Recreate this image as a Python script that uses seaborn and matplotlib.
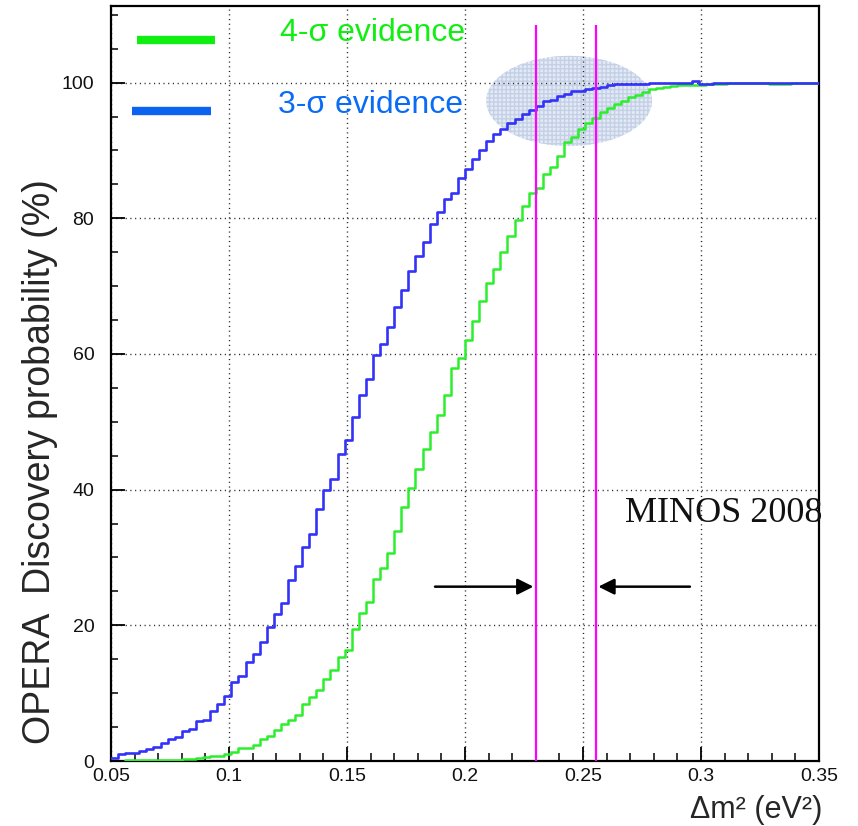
import numpy as np
import pandas as pd
import matplotlib
matplotlib.use("Agg")
import matplotlib.pyplot as plt
from matplotlib.patches import Ellipse
import seaborn as sns

# ---------------- data ----------------
bin_lo = 0.05
bin_w = 0.003
n_bins = 100

blue_3sigma = [0.5, 1.0, 1.2, 1.2, 1.5, 1.7, 2.1, 2.6, 3.3, 3.5,
               4.4, 4.7, 5.9, 6.1, 7.3, 8.4, 9.6, 11.6, 12.5, 14.6,
               15.8, 17.5, 19.8, 21.7, 23.3, 26.7, 28.7, 31.5, 33.4, 37.1,
               39.9, 41.5, 45.3, 47.3, 50.7, 53.9, 56.3, 59.8, 61.4, 64.0,
               66.9, 69.5, 72.2, 74.4, 76.5, 79.1, 80.9, 82.8, 83.7, 86.0,
               87.3, 88.7, 90.0, 91.4, 92.4, 93.1, 94.1, 94.7, 95.4, 95.9,
               96.6, 97.3, 97.5, 98.0, 98.3, 98.7, 98.8, 99.1, 99.2, 99.3,
               99.6, 99.8, 99.8, 99.8, 99.8, 99.8, 100.0, 100.0, 100.0, 100.0,
               100.0, 100.0, 100.3, 99.8, 99.8, 100.0, 100.0, 100.0, 100.0, 100.0,
               100.0, 100.0, 100.0, 100.0, 100.0, 100.0, 100.0, 100.0, 100.0, 100.0]

green_first_bin = 2
green_4sigma = [0.1, 0.1, 0.1, 0.1, 0.1, 0.1, 0.1, 0.1,
                0.25, 0.25, 0.4, 0.55, 0.75, 0.75, 1.0, 1.4, 1.9, 1.9,
                2.4, 3.3, 3.7, 4.5, 5.4, 6.1, 6.8, 8.4, 9.5, 10.5,
                12.1, 13.4, 15.3, 16.3, 19.4, 21.8, 23.5, 26.8, 28.5, 30.6,
                33.9, 37.5, 40.3, 43.1, 46.0, 48.5, 51.0, 53.9, 57.9, 59.4,
                62.1, 64.8, 67.8, 70.4, 72.6, 75.0, 77.4, 79.8, 81.8, 83.7,
                84.5, 86.6, 87.5, 89.2, 91.2, 92.0, 93.1, 94.0, 94.8, 95.7,
                96.2, 96.8, 97.3, 97.9, 98.2, 98.6, 99.1, 99.2, 99.4, 99.5,
                99.7, 99.7, 99.7, 99.7, 99.85, 99.85, 99.85, 100.0, 100.0, 100.0,
                100.0, 100.0, 100.0, 99.85, 99.85, 99.85, 100.0, 100.0, 100.0, 100.0]

minos_lines = [0.23, 0.2555]
x_ticks = [0.05, 0.1, 0.15, 0.2, 0.25, 0.3, 0.35]
x_ticklabels = ["0.05", "0.1", "0.15", "0.2", "0.25", "0.3", "0.35"]
y_ticks = [0, 20, 40, 60, 80, 100]

# ---------------- build tables ----------------
edges = np.round(bin_lo + bin_w * np.arange(n_bins + 1), 4)
blue_df = pd.DataFrame({"x": edges, "y": blue_3sigma + [blue_3sigma[-1]]})
green_df = pd.DataFrame({"x": edges[green_first_bin:], "y": green_4sigma + [green_4sigma[-1]]})

# ---------------- style ----------------
sns.set_style("ticks")
plt.rcParams["font.family"] = ["Liberation Sans", "DejaVu Sans"]

W, H = 858, 826
fig = plt.figure(figsize=(W / 100, H / 100), dpi=100)
ax = fig.add_axes([111 / W, (H - 761) / H, (819 - 111) / W, (761 - 6) / H])

BLUE = "#3232f8"
GREEN = "#2cee2c"

sns.lineplot(data=green_df, x="x", y="y", ax=ax, color=GREEN, lw=1.8,
             drawstyle="steps-post", estimator=None, zorder=3)
sns.lineplot(data=blue_df, x="x", y="y", ax=ax, color=BLUE, lw=1.9,
             drawstyle="steps-post", estimator=None, zorder=4)

ax.set_xlim(0.05, 0.35)
ax.set_ylim(0, 111.3)

# shaded ellipse
ell = Ellipse((0.2441, 97.3), 0.0703, 13.3, facecolor="#e4eaf5",
              edgecolor="#c3d0e6", hatch="++++", lw=0, zorder=0.4)
ax.add_patch(ell)

# grid
ax.set_axisbelow(True)
ax.grid(True, color="#222222", lw=1.0, linestyle=(0, (0.8, 2.6)))

# MINOS lines
ax.vlines(minos_lines, 0, 108.5, color="#ff00ff", lw=1.6, zorder=5)

# arrows
ax.annotate("", xy=(0.2290, 25.7), xytext=(0.1873, 25.7),
            arrowprops=dict(arrowstyle="-|>", color="black", lw=1.8,
                            mutation_scale=24, shrinkA=0, shrinkB=0), zorder=6)
ax.annotate("", xy=(0.2565, 25.7), xytext=(0.2953, 25.7),
            arrowprops=dict(arrowstyle="-|>", color="black", lw=1.8,
                            mutation_scale=24, shrinkA=0, shrinkB=0), zorder=6)

ax.text(0.2678, 35.3, "MINOS 2008", family=["Liberation Serif", "DejaVu Serif"],
        fontsize=26, ha="left", va="baseline", color="#111111", clip_on=False)

# legend-like annotations
ax.plot([0.061, 0.0941], [106.3, 106.3], color="#11ee11", lw=6, solid_capstyle="butt",
        clip_on=False)
ax.plot([0.0589, 0.0924], [95.8, 95.8], color="#0a64f0", lw=6, solid_capstyle="butt",
        clip_on=False)
ax.text(0.1216, 107.3, "4-σ evidence", color="#11ee11", fontsize=23, ha="left", va="center")
ax.text(0.1208, 96.7, "3-σ evidence", color="#0a6cf5", fontsize=23, ha="left", va="center")

# ticks
ax.set_xticks(x_ticks)
ax.set_xticklabels(x_ticklabels)
ax.set_yticks(y_ticks)
ax.set_xticks(np.round(np.arange(0.05, 0.3501, 0.01), 3), minor=True)
ax.set_yticks(np.arange(0, 111, 5), minor=True)
ax.tick_params(axis="both", which="both", direction="in", top=False, right=False,
               colors="black")
ax.tick_params(axis="x", which="major", length=10, width=1.3, pad=5, labelsize=14)
ax.tick_params(axis="x", which="minor", length=6, width=1.1)
ax.tick_params(axis="y", which="major", length=10, width=1.3, pad=12, labelsize=14)
ax.tick_params(axis="y", which="minor", length=5, width=1.1)
for lab in ax.get_xticklabels() + ax.get_yticklabels():
    lab.set_color("#111111")

for s in ax.spines.values():
    s.set_visible(True)
    s.set_linewidth(1.6)
    s.set_color("black")

ax.set_xlabel("")
ax.set_ylabel("")

fig.text(822 / W, (H - 810) / H, "Δm² (eV²)", fontsize=22, ha="right", va="center")
fig.text(40 / W, 1 - 462 / H, "OPERA  Discovery probability (%)", fontsize=27,
         rotation=90, ha="center", va="center")

fig.savefig("out.png", dpi=100)
